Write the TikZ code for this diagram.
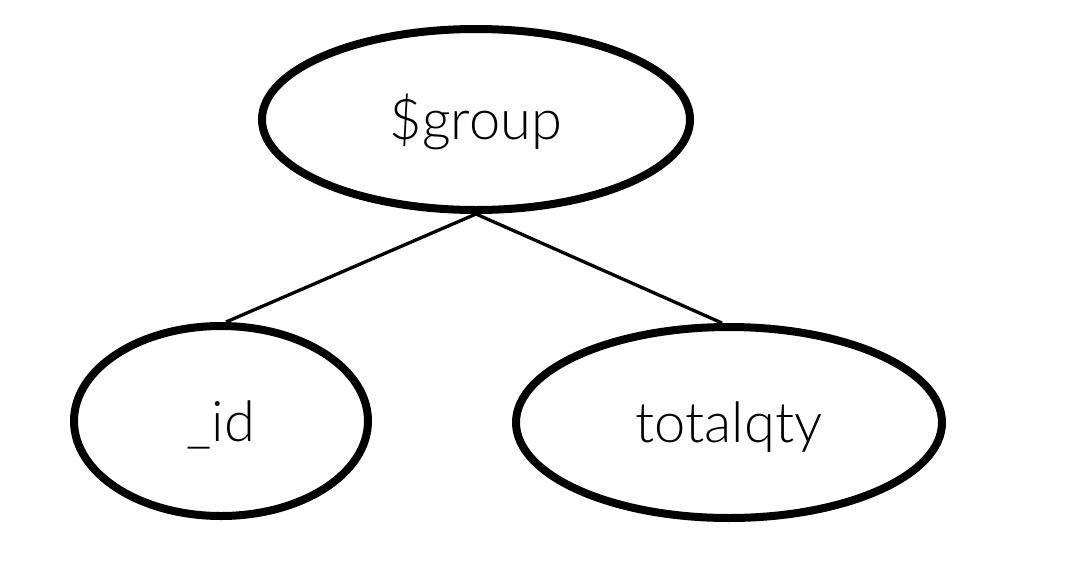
\documentclass[tikz,border=0pt]{standalone}
\usepackage{fontspec}
\setmainfont{Lato Light}
\usetikzlibrary{shapes.geometric}
\tikzset{
  field/.style={ellipse, draw=black, line width=8pt, inner sep=0pt,
    font=\fontsize{56}{60}\selectfont, text height=40pt, text depth=0pt},
  link/.style={draw=black, line width=3.3pt}
}
\begin{document}
\begin{tikzpicture}[x=1pt,y=-1pt]
\useasboundingbox[fill=white] (0,0) rectangle (1080,574);
\node[field, minimum width=428pt, minimum height=181pt] (g) at (476,119.5) {\$group};
\node[field, minimum width=294pt, minimum height=190pt] (id) at (221,421) {\_id};
\node[field, minimum width=426pt, minimum height=191pt] (tq) at (729,422.5) {totalqty};
\draw[link] (g.south) -- ([xshift=5pt]id.north);
\draw[link] (g.south) -- ([xshift=-7pt]tq.north);
\end{tikzpicture}
\end{document}
